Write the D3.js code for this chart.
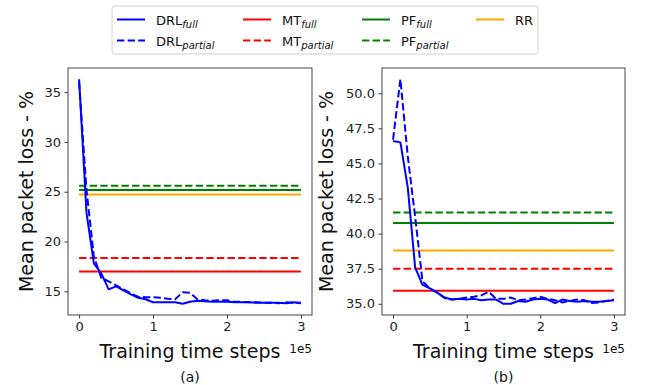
<!DOCTYPE html>
<html>
<head>
<meta charset="utf-8">
<script src="https://cdn.jsdelivr.net/npm/d3@7"></script>
<style>
  body { margin: 0; background: #fff; }
  svg { display: block; font-family: "DejaVu Sans", sans-serif; }
</style>
</head>
<body>
<svg id="chart" width="651" height="385"></svg>
<script>
// Training steps (in units of 1e5)
const steps = [0, 0.1, 0.2, 0.3, 0.4, 0.5, 0.6, 0.7, 0.8, 0.9, 1.0,
  1.1, 1.2, 1.3, 1.4, 1.5, 1.6, 1.7, 1.8, 1.9, 2.0,
  2.1, 2.2, 2.3, 2.4, 2.5, 2.6, 2.7, 2.8, 2.9, 3.0];

// Panel (a): mean packet loss (%)
const drlFullA = [36.3, 22.9, 17.8, 16.8, 15.2, 15.5, 15.1, 14.7, 14.35, 14.2, 13.9,
  13.9, 13.9, 13.9, 13.75, 13.95, 14.05, 14.0, 13.95, 13.95, 13.95,
  13.9, 13.9, 13.9, 13.85, 13.85, 13.85, 13.85, 13.8, 13.9, 13.8];
const drlPartialA = [36.0, 25.2, 18.5, 16.35, 16.0, 15.6, 15.2, 14.8, 14.45, 14.4, 14.4,
  14.35, 14.25, 14.2, 14.9, 14.85, 14.2, 14.1, 14.05, 14.1, 14.1,
  13.95, 13.95, 13.9, 13.9, 13.85, 13.85, 13.8, 13.9, 13.85, 13.85];
const baselinesA = { mtFull: 16.98, mtPartial: 18.35, pfFull: 25.17, pfPartial: 25.6, rr: 24.73 };
const yTicksA = [15, 20, 25, 30, 35];

// Panel (b): mean packet loss (%)
const drlFullB = [46.6, 46.5, 43.3, 37.6, 36.35, 36.1, 35.8, 35.45, 35.3, 35.35, 35.3,
  35.35, 35.25, 35.3, 35.3, 35.0, 35.0, 35.2, 35.15, 35.3, 35.35,
  35.3, 35.05, 35.3, 35.2, 35.15, 35.2, 35.15, 35.15, 35.2, 35.25];
const drlPartialB = [46.7, 51.0, 45.5, 41.2, 36.6, 36.1, 35.8, 35.4, 35.3, 35.35, 35.45,
  35.5, 35.6, 35.85, 35.35, 35.35, 35.45, 35.25, 35.3, 35.4, 35.5,
  35.35, 35.25, 35.1, 35.2, 35.3, 35.25, 35.05, 35.1, 35.2, 35.3];
const baselinesB = { mtFull: 35.93, mtPartial: 37.5, pfFull: 40.76, pfPartial: 41.5, rr: 38.8 };
const yTicksB = [35.0, 37.5, 40.0, 42.5, 45.0, 47.5, 50.0];

const xTicks = [0, 1, 2, 3];

const COLORS = { drl: "#0000ff", mt: "#ff0000", pf: "#008000", rr: "#ffa500" };
const DASH = "7.4,3.2";
const LW = 2;

const svg = d3.select("#chart");
svg.append("rect").attr("width", 651).attr("height", 385).attr("fill", "#fff");

function drawPanel(box, full, partial, base, yTicks, yFmt, caption) {
  const x = d3.scaleLinear().domain([-0.15, 3.15]).range([box.x0, box.x1]);
  const lo = d3.min([...full, ...partial]), hi = d3.max([...full, ...partial]);
  const pad = (hi - lo) * 0.05;
  const y = d3.scaleLinear().domain([lo - pad, hi + pad]).range([box.y1, box.y0]);

  const g = svg.append("g");
  const clipId = "clip" + caption.replace(/\W/g, "");
  g.append("clipPath").attr("id", clipId).append("rect")
    .attr("x", box.x0).attr("y", box.y0)
    .attr("width", box.x1 - box.x0).attr("height", box.y1 - box.y0);
  const plot = g.append("g").attr("clip-path", `url(#${clipId})`);

  // Baseline policies: horizontal reference lines
  const hlines = [
    { v: base.pfPartial, c: COLORS.pf, dash: true },
    { v: base.pfFull, c: COLORS.pf, dash: false },
    { v: base.rr, c: COLORS.rr, dash: false },
    { v: base.mtPartial, c: COLORS.mt, dash: true },
    { v: base.mtFull, c: COLORS.mt, dash: false }
  ];
  hlines.forEach(h => {
    plot.append("line")
      .attr("x1", x(steps[0])).attr("x2", x(steps[steps.length - 1]))
      .attr("y1", y(h.v)).attr("y2", y(h.v))
      .attr("stroke", h.c).attr("stroke-width", LW)
      .attr("stroke-dasharray", h.dash ? DASH : null);
  });

  const line = d3.line().x((d, i) => x(steps[i])).y(d => y(d));
  plot.append("path").datum(full).attr("d", line)
    .attr("fill", "none").attr("stroke", COLORS.drl).attr("stroke-width", LW)
    .attr("stroke-linejoin", "round");
  plot.append("path").datum(partial).attr("d", line)
    .attr("fill", "none").attr("stroke", COLORS.drl).attr("stroke-width", LW)
    .attr("stroke-dasharray", DASH);

  // Axes
  const xAxis = d3.axisBottom(x).tickValues(xTicks).tickFormat(d3.format("d"))
    .tickSize(3.5).tickPadding(3.5);
  const yAxis = d3.axisLeft(y).tickValues(yTicks).tickFormat(yFmt)
    .tickSize(3.5).tickPadding(3.5);
  const gx = g.append("g").attr("transform", `translate(0,${box.y1})`).call(xAxis);
  const gy = g.append("g").attr("transform", `translate(${box.x0},0)`).call(yAxis);
  [gx, gy].forEach(a => {
    a.select(".domain").remove();
    a.selectAll(".tick line").attr("stroke", "#222").attr("stroke-width", 0.9);
    a.selectAll(".tick text").attr("fill", "#222").attr("font-size", 13)
      .attr("font-family", "DejaVu Sans");
  });

  g.append("rect")
    .attr("x", box.x0).attr("y", box.y0)
    .attr("width", box.x1 - box.x0).attr("height", box.y1 - box.y0)
    .attr("fill", "none").attr("stroke", "#333").attr("stroke-width", 0.9);

  // Labels
  g.append("text")
    .attr("transform", `translate(${box.ylabelX},${(box.y0 + box.y1) / 2}) rotate(-90)`)
    .attr("text-anchor", "middle").attr("dominant-baseline", "central")
    .attr("font-size", 19).attr("fill", "#111")
    .text("Mean packet loss - %");
  const cx = (box.x0 + box.x1) / 2;
  g.append("text").attr("x", cx).attr("y", 358)
    .attr("text-anchor", "middle").attr("font-size", 19).attr("fill", "#111")
    .text("Training time steps");
  g.append("text").attr("x", box.x1).attr("y", 353)
    .attr("text-anchor", "end").attr("font-size", 12).attr("fill", "#111")
    .text("1e5");
  g.append("text").attr("x", cx).attr("y", 382)
    .attr("text-anchor", "middle").attr("font-size", 14).attr("fill", "#111")
    .text(caption);
}

drawPanel({ x0: 68, x1: 312, y0: 68, y1: 315, ylabelX: 26 },
  drlFullA, drlPartialA, baselinesA, yTicksA, d3.format("d"), "(a)");
drawPanel({ x0: 382, x1: 625, y0: 68, y1: 315, ylabelX: 326 },
  drlFullB, drlPartialB, baselinesB, yTicksB, d3.format(".1f"), "(b)");

// Legend
const legendItems = [
  { name: "DRL", sub: "full", c: COLORS.drl, dash: false, col: 0, row: 0 },
  { name: "DRL", sub: "partial", c: COLORS.drl, dash: true, col: 0, row: 1 },
  { name: "MT", sub: "full", c: COLORS.mt, dash: false, col: 1, row: 0 },
  { name: "MT", sub: "partial", c: COLORS.mt, dash: true, col: 1, row: 1 },
  { name: "PF", sub: "full", c: COLORS.pf, dash: false, col: 2, row: 0 },
  { name: "PF", sub: "partial", c: COLORS.pf, dash: true, col: 2, row: 1 },
  { name: "RR", sub: null, c: COLORS.rr, dash: false, col: 3, row: 0 }
];
const colX = [117, 243, 362, 476];
const rowY = [19.5, 40.5];

const lg = svg.append("g");
lg.append("rect").attr("x", 112).attr("y", 6).attr("width", 426).attr("height", 48)
  .attr("rx", 3).attr("fill", "#fff").attr("stroke", "#d0d0d0").attr("stroke-width", 1);
legendItems.forEach(it => {
  const x0 = colX[it.col], yy = rowY[it.row];
  lg.append("line").attr("x1", x0).attr("x2", x0 + 28).attr("y1", yy).attr("y2", yy)
    .attr("stroke", it.c).attr("stroke-width", LW)
    .attr("stroke-dasharray", it.dash ? DASH : null);
  const t = lg.append("text").attr("x", x0 + 39).attr("y", yy + 5)
    .attr("font-size", 13).attr("fill", "#111");
  t.append("tspan").text(it.name);
  if (it.sub) {
    t.append("tspan").attr("dy", 3).attr("font-size", 10).attr("font-style", "italic")
      .text(it.sub);
  }
});
</script>
</body>
</html>
